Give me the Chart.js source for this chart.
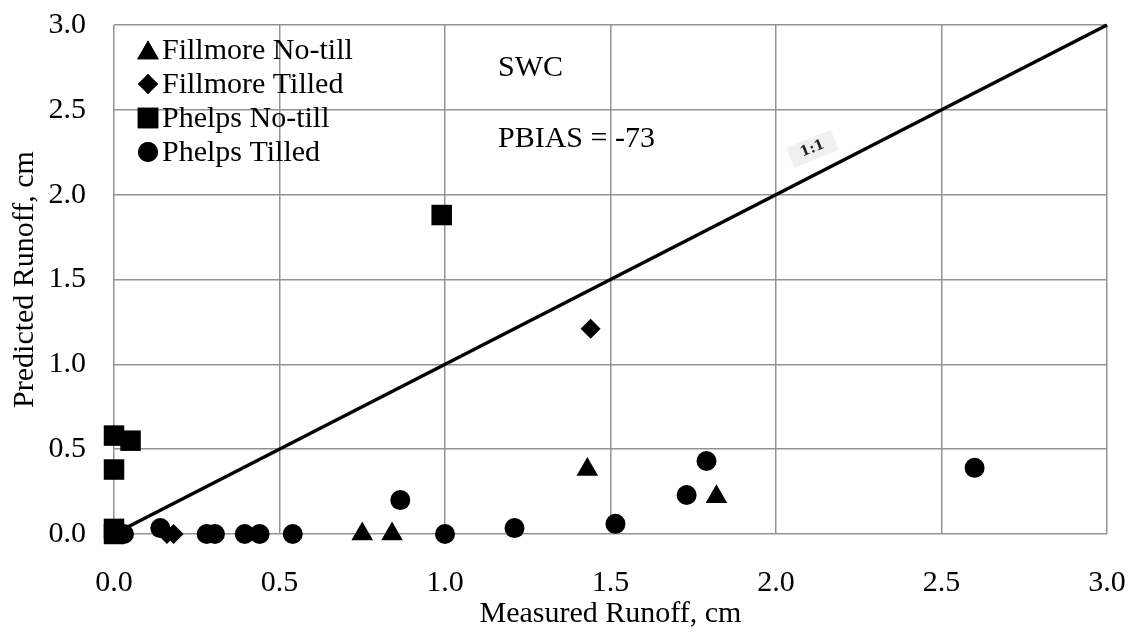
<!DOCTYPE html>
<html lang="en">

<head>
    <meta charset="UTF-8">
    <title>SWC runoff</title>
    <script src="https://cdn.jsdelivr.net/npm/chart.js"></script>
</head>

<style>
    body {
        margin: 0;
        background: #ffffff;
    }

    .grafico_sty {
        width: 1132px;
        height: 635px;
    }
</style>

<body>

    <div class="grafico_sty">
        <canvas id="grafico_1" width="1132" height="635"></canvas>
    </div>

    <script>

        // measured (x) and predicted (y) runoff, cm
        const fillmoreNoTillX = [0.75, 0.84, 1.43, 1.82];
        const fillmoreNoTillY = [0.0, 0.0, 0.38, 0.22];

        const fillmoreTilledX = [0.16, 0.18, 1.44];
        const fillmoreTilledY = [0.0, 0.0, 1.21];

        const phelpsNoTillX = [0.0, 0.05, 0.0, 0.0, 0.0, 0.99];
        const phelpsNoTillY = [0.58, 0.55, 0.38, 0.03, 0.0, 1.88];

        const phelpsTilledX = [0.03, 0.14, 0.28, 0.305, 0.395, 0.44, 0.54, 0.865, 1.0, 1.21, 1.515, 1.73, 1.79, 2.6];
        const phelpsTilledY = [0.0, 0.035, 0.0, 0.0, 0.0, 0.0, 0.0, 0.2, 0.0, 0.035, 0.06, 0.23, 0.43, 0.39];

        const seriesNames = ['Fillmore No-till', 'Fillmore Tilled', 'Phelps No-till', 'Phelps Tilled'];
        const axisTicks = [0.0, 0.5, 1.0, 1.5, 2.0, 2.5, 3.0];
        const oneToOne = [0, 3];

        const fonte = '"Liberation Serif", "Times New Roman", serif';

        const pares = (xs, ys) => xs.map((x, i) => ({ x: x, y: ys[i] }));

        const ctx = document.getElementById('grafico_1');

        // legend drawn inside the plot, one entry per row
        const legendaInterna = {
            id: 'legendaInterna',
            afterDatasetsDraw(chart) {
                const c = chart.ctx;
                const area = chart.chartArea;
                c.save();
                c.font = '30px ' + fonte;
                c.textBaseline = 'middle';
                c.fillStyle = '#000';
                let linha = 0;
                chart.data.datasets.forEach(ds => {
                    if (!ds.naLegenda) return;
                    const y = area.top + 25 + linha * 34;
                    Chart.helpers.drawPoint(c, {
                        pointStyle: ds.pointStyle,
                        radius: ds.pointRadius,
                        rotation: 0,
                        borderWidth: 0
                    }, area.left + 34, y + (ds.pointStyle === 'triangle' ? 3 : 0));
                    c.fillStyle = '#000';
                    c.fill();
                    c.fillText(ds.label, area.left + 48, y + 1);
                    linha++;
                });
                c.restore();
            }
        };

        // free text and the 1:1 tag on the line
        const textos = {
            id: 'textos',
            afterDatasetsDraw(chart) {
                const c = chart.ctx;
                const sx = chart.scales.x;
                const sy = chart.scales.y;
                c.save();
                c.font = '30px ' + fonte;
                c.fillStyle = '#000';
                c.textBaseline = 'alphabetic';
                c.fillText('SWC', sx.getPixelForValue(1.16), sy.getPixelForValue(2.70));
                c.fillText('PBIAS = -73', sx.getPixelForValue(1.16), sy.getPixelForValue(2.28));

                c.translate(sx.getPixelForValue(2.11), sy.getPixelForValue(2.27));
                c.rotate(-22 * Math.PI / 180);
                c.fillStyle = '#f0f0f0';
                c.fillRect(-24, -11, 48, 22);
                c.fillStyle = '#222';
                c.font = 'bold 14px "DejaVu Serif", serif';
                c.textAlign = 'center';
                c.textBaseline = 'middle';
                c.fillText('1:1', 0, 0);
                c.restore();
            }
        };

        const estiloPonto = (forma, raio) => ({
            type: 'scatter',
            pointStyle: forma,
            pointRadius: raio,
            pointHoverRadius: raio,
            backgroundColor: '#000',
            borderColor: '#000',
            borderWidth: 0,
            clip: false,
            naLegenda: true
        });

        const grafico_1 = new Chart(ctx, {
            data: {
                datasets: [
                    {
                        type: 'line',
                        label: '1:1',
                        data: pares(oneToOne, oneToOne),
                        borderColor: '#000',
                        borderWidth: 3.5,
                        pointRadius: 0,
                        fill: false,
                        clip: false,
                        naLegenda: false
                    },
                    { ...estiloPonto('triangle', 12.5), label: seriesNames[0], data: pares(fillmoreNoTillX, fillmoreNoTillY) },
                    { ...estiloPonto('rectRot', 10), label: seriesNames[1], data: pares(fillmoreTilledX, fillmoreTilledY) },
                    { ...estiloPonto('rect', 14.5), label: seriesNames[2], data: pares(phelpsNoTillX, phelpsNoTillY) },
                    { ...estiloPonto('circle', 10), label: seriesNames[3], data: pares(phelpsTilledX, phelpsTilledY) }
                ]
            },
            options: {
                responsive: false,
                animation: false,
                layout: {
                    padding: { top: 25, right: 25, left: 0, bottom: 0 }
                },
                plugins: {
                    legend: { display: false },
                    tooltip: { enabled: false }
                },
                scales: {
                    x: {
                        type: 'linear',
                        min: axisTicks[0],
                        max: axisTicks[axisTicks.length - 1],
                        afterBuildTicks: s => { s.ticks = axisTicks.map(v => ({ value: v })); },
                        afterFit: s => {
                            s.height = 101;
                            s.paddingLeft = 0;
                            s.paddingRight = 0;
                        },
                        grid: { color: '#939393', lineWidth: 1.5, drawTicks: false },
                        border: { display: false },
                        ticks: {
                            color: '#000',
                            padding: 31,
                            maxRotation: 0,
                            font: { family: fonte, size: 30 },
                            callback: v => v.toFixed(1)
                        },
                        title: {
                            display: true,
                            text: 'Measured Runoff, cm',
                            color: '#000',
                            font: { family: fonte, size: 30 },
                            padding: { top: 0, bottom: 3 }
                        }
                    },
                    y: {
                        type: 'linear',
                        min: axisTicks[0],
                        max: axisTicks[axisTicks.length - 1],
                        afterBuildTicks: s => { s.ticks = axisTicks.map(v => ({ value: v })); },
                        afterFit: s => {
                            s.width = 114;
                            s.paddingTop = 0;
                            s.paddingBottom = 0;
                        },
                        grid: { color: '#939393', lineWidth: 1.5, drawTicks: false },
                        border: { display: false },
                        ticks: {
                            color: '#000',
                            padding: 28,
                            font: { family: fonte, size: 30 },
                            callback: v => v.toFixed(1)
                        },
                        title: {
                            display: true,
                            text: 'Predicted Runoff, cm',
                            color: '#000',
                            font: { family: fonte, size: 30 },
                            padding: { top: 7, bottom: 0 }
                        }
                    }
                }
            },
            plugins: [legendaInterna, textos]
        });

    </script>

</body>

</html>
